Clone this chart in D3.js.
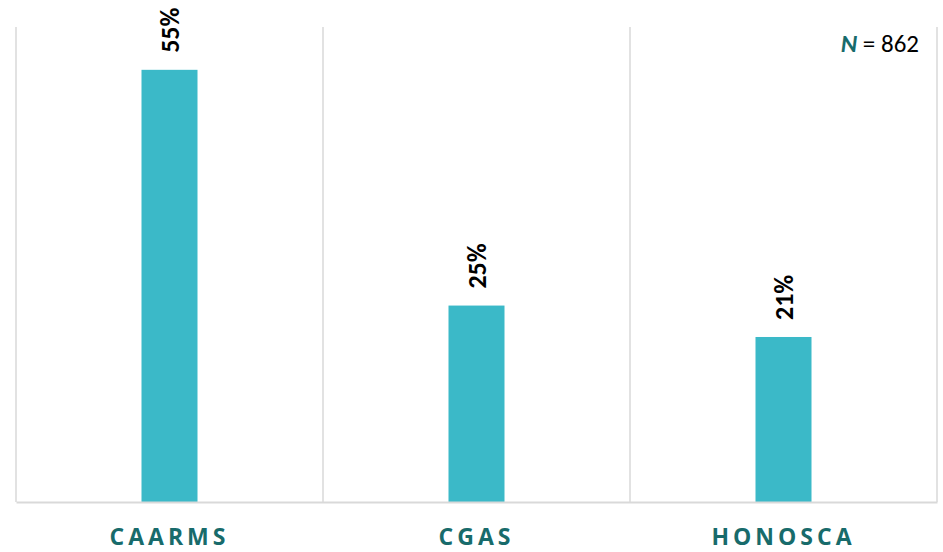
<!DOCTYPE html>
<html><head><meta charset="utf-8">
<script src="https://cdn.jsdelivr.net/npm/d3@7"></script>
<style>html,body{margin:0;padding:0;background:#fff;}</style>
</head><body>
<svg id="chart" width="943" height="552"></svg>
<script>
const categories = ["CAARMS", "CGAS", "HONOSCA"];
const values = [55, 25, 21];
const valueLabels = ["55%", "25%", "21%"];
const sampleSize = 862;

const svg = d3.select("#chart");
const m = {left: 16, right: 943 - 937, top: 27, bottom: 552 - 502};
const W = 943, H = 552;

const x = d3.scaleBand().domain(categories).range([m.left, W - m.right]).paddingInner(0).paddingOuter(0);
const y = d3.scaleLinear().domain([0, 60.45]).range([H - m.bottom, m.top]);

const grid = "#d9d9d9";
const bounds = categories.map(c => x(c)).concat([x(categories[categories.length-1]) + x.bandwidth()]);
svg.append("g").selectAll("line").data(bounds).join("line")
  .attr("x1", d => d).attr("x2", d => d)
  .attr("y1", y.range()[1]).attr("y2", y.range()[0])
  .attr("stroke", grid).attr("stroke-width", 1.5);

const bw = 56;
svg.append("g").selectAll("rect").data(values).join("rect")
  .attr("x", (d, i) => x(categories[i]) + x.bandwidth() / 2 - bw / 2)
  .attr("width", bw)
  .attr("y", d => y(d))
  .attr("height", d => y(0) - y(d))
  .attr("fill", "#3BB9C8");

const xAxis = d3.axisBottom(x).tickSize(0).tickPadding(0);
const ax = svg.append("g").attr("transform", `translate(0,${y(0)})`).call(xAxis);
ax.select(".domain").attr("stroke", grid).attr("stroke-width", 2);
ax.selectAll(".tick text")
  .attr("y", 43).attr("dy", 0)
  .attr("fill", "#186B6B")
  .style("font-family", "'Open Sans', sans-serif")
  .style("font-weight", "700")
  .style("font-size", "23px")
  .style("letter-spacing", "4px");

svg.append("g").selectAll("text").data(values).join("text")
  .attr("transform", (d, i) => `translate(${x(categories[i]) + x.bandwidth() / 2 + 9},${y(d) - 17}) rotate(-90)`)
  .attr("text-anchor", "start")
  .style("font-family", "Carlito, Calibri, 'Liberation Sans', sans-serif")
  .style("font-weight", "700")
  .style("font-size", "26px")
  .attr("fill", "#000")
  .text((d, i) => valueLabels[i]);

const nt = svg.append("text")
  .attr("x", 919).attr("y", 52).attr("text-anchor", "end")
  .style("font-family", "Carlito, Calibri, 'Liberation Sans', sans-serif")
  .style("font-size", "25px");
nt.append("tspan").attr("fill", "#186B6B").style("font-weight", "700").style("font-style", "italic").text("N");
nt.append("tspan").attr("fill", "#000").text(" = " + sampleSize);
</script>
</body></html>
